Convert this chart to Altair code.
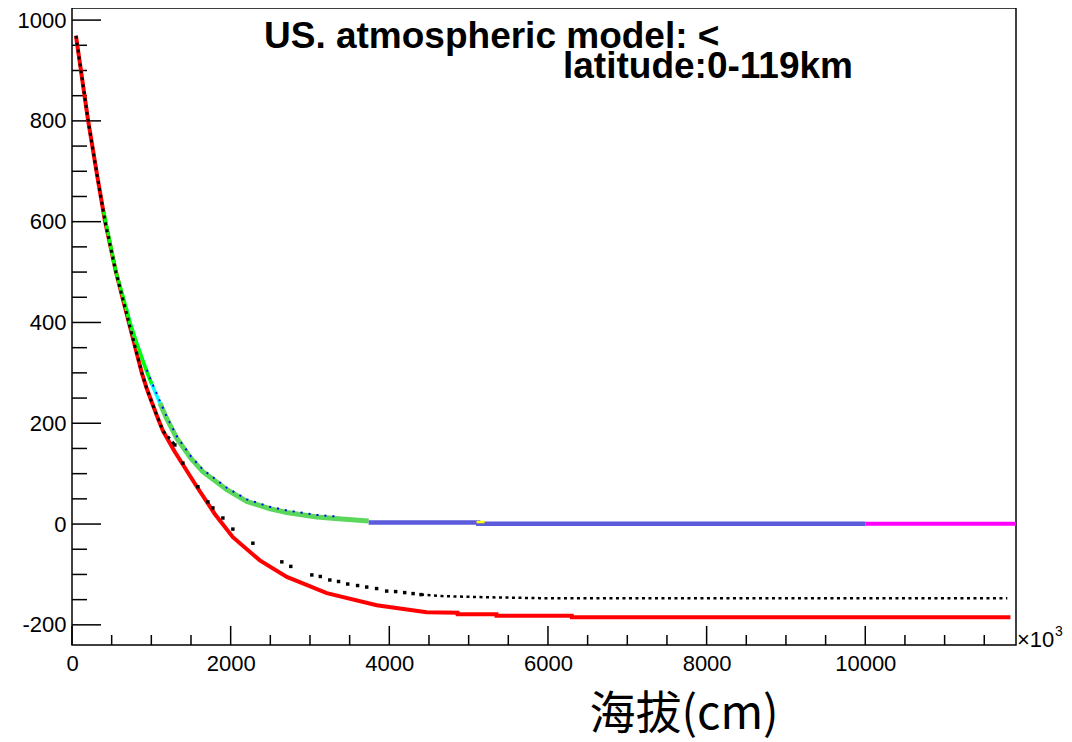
import altair as alt
import pandas as pd

# ---- data ----
X_LABELS = [0, 2000, 4000, 6000, 8000, 10000]
X_MINOR = [500, 1000, 1500, 2500, 3000, 3500, 4500, 5000, 5500, 6500, 7000, 7500,
           8500, 9000, 9500, 10500, 11000, 11500]
Y_LABELS = [-200, 0, 200, 400, 600, 800, 1000]
Y_MINOR = [-150, -100, -50, 50, 100, 150, 250, 300, 350, 450, 500, 550, 650, 700,
           750, 850, 900, 950]

red_x = [50, 202, 319, 415, 554, 730, 880, 944, 1070, 1146, 1290, 1574, 1800, 2028, 2368,
         2708, 3212, 3841, 4471, 4860, 4861, 5350, 5351, 6300, 6301, 11830]
red_y = [969, 802, 690, 602, 500, 392, 300, 268, 215, 185, 145, 74, 20, -26, -72,
         -105, -137, -161, -175, -176, -179, -179, -182, -182, -185, -185]

# black markers: dense part (drawn as dashes), sparse middle (single dashes), flat tail
black_top_x = [50, 202, 319, 415, 554, 730, 880, 944, 1070, 1146, 1297]
black_top_y = [969, 802, 690, 602, 500, 392, 300, 268, 215, 185, 157]
black_mid_x = [1297, 1398, 1587, 1713, 1776, 1902, 2028, 2280, 2645, 2758, 3023, 3130,
               3250, 3360, 3476, 3600, 3715, 3840, 3967, 4080, 4194, 4300, 4400]
black_mid_y = [157, 121, 74, 44, 32, 12, -10, -38, -75, -84, -101, -104,
               -111, -114, -119, -122, -125, -128, -133, -134, -136, -138, -140]
black_tail_x = [4400, 4672, 5139, 5900, 11790]
black_tail_y = [-140, -143, -145, -147, -147]

green_x = [400, 554, 642, 730, 819, 944, 1004]
green_y = [620, 500, 452, 400, 357, 302, 278]

cyan_x = [690, 730, 819, 944, 1004, 1108]
cyan_y = [426, 400, 357, 302, 278, 240]

lgreen_x = [1108, 1185, 1322, 1500, 1650, 1952, 2204, 2500, 2708, 3086, 3400, 3740]
lgreen_y = [240, 212, 170, 130, 104, 68, 45, 30, 23, 14, 10, 6]

blue_x = [944, 1004, 1108, 1185, 1322, 1500, 1650, 1952, 2204, 2500, 2708, 3086, 3340]
blue_y = [306, 282, 244, 216, 174, 134, 108, 72, 49, 34, 27, 18, 15]

slate_x = [3740, 5120, 5121, 10000]
slate_y = [3, 3, 0.5, 0.5]

yellow_x = [5100, 5200]
yellow_y = [4, 4]

magenta_x = [10000, 11900]
magenta_y = [0.5, 0.5]

TITLE1 = "US. atmospheric model: <"
TITLE2 = "latitude:0-119km"
XTITLE = "海拔(cm)"

# ---- layout ----
W, H = 944, 637
FONT = "Liberation Sans"
xs = alt.Scale(domain=[0, 11900], nice=False, zero=False)
ys = alt.Scale(domain=[-240, 1024], nice=False, zero=False)
xaxis = alt.Axis(values=X_LABELS, title=None, ticks=False, domain=False, grid=False,
                 labelFontSize=22, labelFont=FONT, labelPadding=8, labelColor="black",
                 labelFlush=False, labelExpr="'' + datum.value")
yaxis = alt.Axis(values=Y_LABELS, title=None, ticks=False, domain=False, grid=False,
                 labelFontSize=22, labelFont=FONT, labelPadding=6, labelColor="black",
                 labelExpr="'' + datum.value")


def enc():
    return dict(x=alt.X("x:Q", scale=xs, axis=xaxis), y=alt.Y("y:Q", scale=ys, axis=yaxis))


def line(xv, yv, color, width, dash=None):
    df = pd.DataFrame({"x": xv, "y": yv})
    kw = dict(color=color, strokeWidth=width, clip=True)
    if dash is not None:
        kw["strokeDash"] = dash
    return alt.Chart(df).mark_line(**kw).encode(**enc())


def squares(xv, yv, color, size):
    df = pd.DataFrame({"x": xv, "y": yv})
    return alt.Chart(df).mark_square(color=color, size=size, opacity=1, clip=True).encode(**enc())


def yticks(vals, length):
    return alt.Chart(pd.DataFrame({"y": vals})).mark_rule(color="black", strokeWidth=1.5).encode(
        y=alt.Y("y:Q", scale=ys, axis=yaxis), x=alt.value(0), x2=alt.value(length))


def xticks(vals, length):
    return alt.Chart(pd.DataFrame({"x": vals})).mark_rule(color="black", strokeWidth=1.5).encode(
        x=alt.X("x:Q", scale=xs, axis=xaxis), y=alt.value(H), y2=alt.value(H - length))


def text(t, px, py, size, bold=False, font=FONT, align="left"):
    return alt.Chart(pd.DataFrame({"t": [t]})).mark_text(
        font=font, fontSize=size, fontWeight="bold" if bold else "normal",
        align=align, baseline="alphabetic", color="black").encode(
        x=alt.value(px), y=alt.value(py), text="t:N")


layers = [
    yticks(Y_LABELS, 29), yticks(Y_MINOR, 15),
    xticks(X_LABELS, 19), xticks(X_MINOR, 10),
    line(red_x, red_y, "#ff0000", 4),
    line(lgreen_x, lgreen_y, "#5bd75b", 5),
    line(cyan_x, cyan_y, "#00ffff", 3.5),
    line(green_x, green_y, "#00ff00", 3.5),
    line(slate_x, slate_y, "#5b5bdc", 4.5),
    line(magenta_x, magenta_y, "#ff00ff", 4),
    line(yellow_x, yellow_y, "#ffff00", 2.5),
    line(blue_x, blue_y, "#0000ff", 2, [2, 6]),
    line(black_top_x, black_top_y, "#000000", 3, [3, 4]),
    squares(black_mid_x, black_mid_y, "#000000", 12),
    line(black_tail_x, black_tail_y, "#000000", 2.5, [3, 3.5]),
    text(TITLE1, 192, 40, 37, bold=True),
    text(TITLE2, 491, 70, 37, bold=True),
    text("×10", 945, 639, 22),
    text("3", 983, 628, 14),
    text(XTITLE, 612, 721, 46, font="Noto Sans CJK SC", align="center"),
]

chart = alt.layer(*layers).properties(
    width=W, height=H,
    padding={"left": 64, "top": 0, "right": 48, "bottom": 97},
    autosize=alt.AutoSizeParams(type="none"),
).configure_view(stroke="black", strokeWidth=1.5)

chart.save("out.html", embed_options={"renderer": "svg", "actions": False})
